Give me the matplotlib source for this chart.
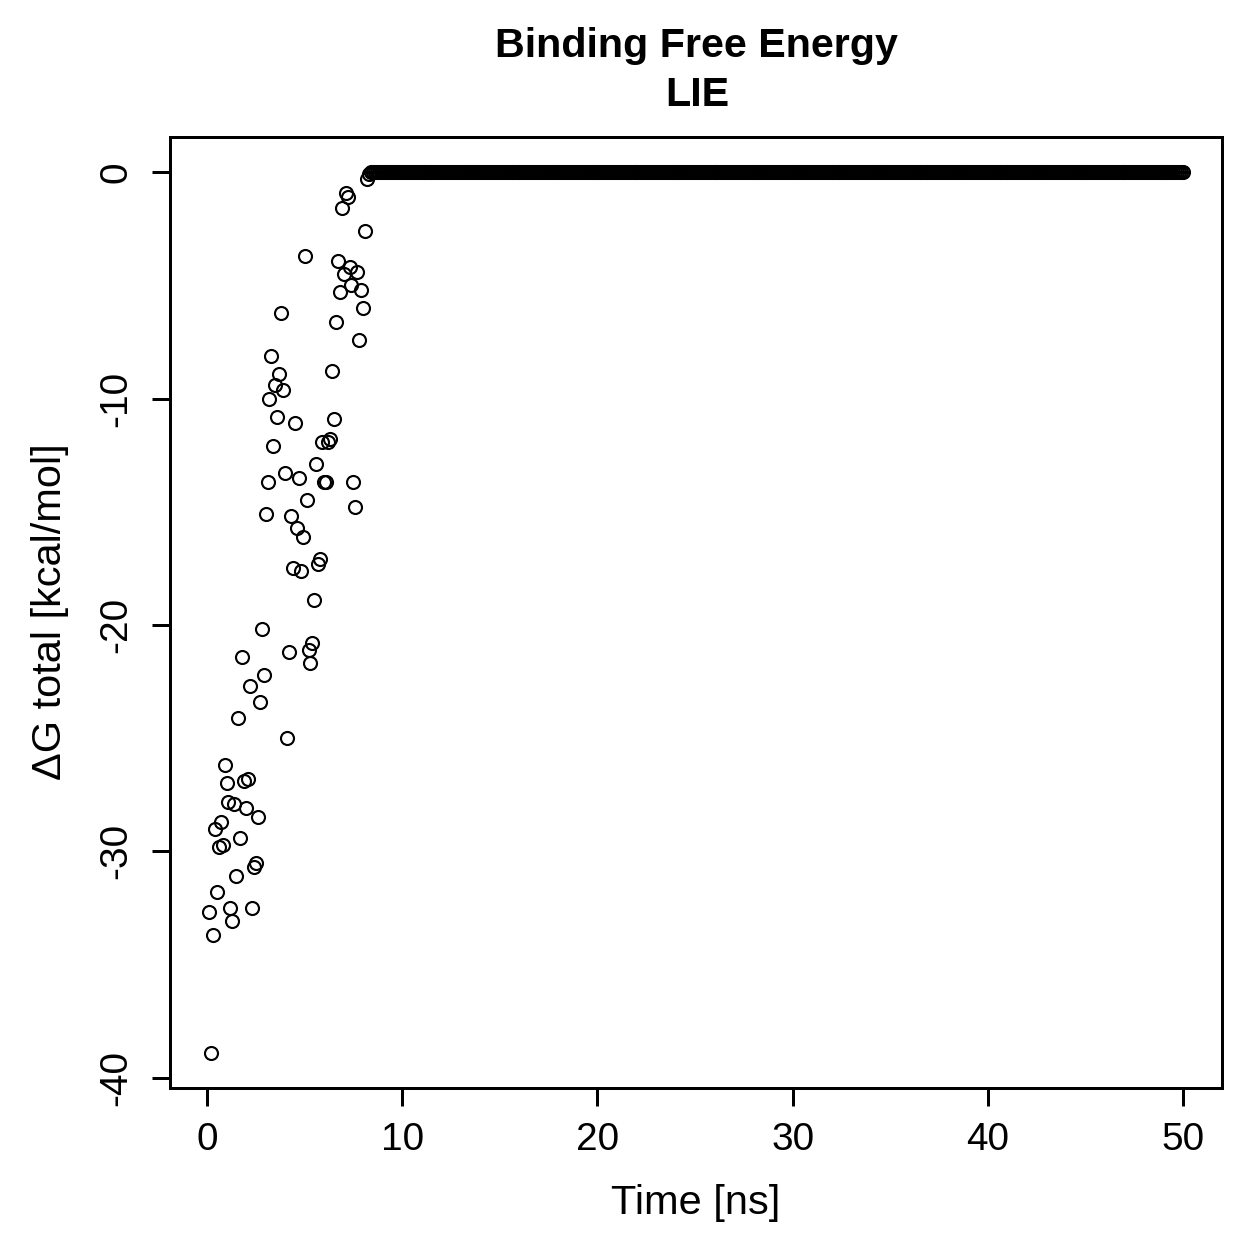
import numpy as np
import matplotlib
matplotlib.use("Agg")
import matplotlib.pyplot as plt

plt.rcParams['font.family'] = ['Liberation Sans', 'DejaVu Sans']

# Binding free energy (kcal/mol), sampled every 0.1 ns
dg_early = [
    -32.7, -38.9, -33.7, -29.0, -31.8, -29.8, -28.7, -29.7, -26.2, -27.0,
    -27.8, -32.5, -33.1, -27.9, -31.1, -24.1, -29.4, -21.4, -26.9, -28.1,
    -26.8, -22.7, -32.5, -30.7, -30.5, -28.5, -23.4, -20.2, -22.2, -15.1,
    -13.7, -10.0, -8.1, -12.1, -9.4, -10.8, -8.9, -6.2, -9.6, -13.3,
    -25.0, -21.2, -15.2, -17.5, -11.1, -15.7, -13.5, -17.6, -16.1, -3.7,
    -14.5, -21.1, -21.7, -20.8, -18.9, -12.9, -17.3, -17.1, -11.9, -13.7,
    -13.7, -11.9, -11.8, -8.8, -10.9, -6.6, -3.9, -5.3, -1.6, -4.5,
    -0.9, -1.1, -4.2, -5.0, -13.7, -14.8, -4.4, -7.4, -5.2, -6.0,
    -2.6, -0.3, -0.1,
]
dg_late = [0.0] * 417
dg_total = dg_early + dg_late
time_ns = np.round(np.arange(1, len(dg_total) + 1) * 0.1, 1)

xticks = [0, 10, 20, 30, 40, 50]
yticks = [0, -10, -20, -30, -40]

W = 1259
fig = plt.figure(figsize=(W / 180, W / 180), dpi=180)
ax = fig.add_axes([170 / W, 1 - 1088 / W, (1222 - 170) / W, (1088 - 137) / W])

ax.plot(time_ns, dg_total, linestyle='none', marker='o', markersize=5.2,
        markerfacecolor='none', markeredgecolor='black', markeredgewidth=0.85)

ax.set_xlim(-1.896, 51.996)
ax.set_ylim(-40.456, 1.556)
ax.set_xticks(xticks)
ax.set_yticks(yticks)
ax.set_xticklabels([str(v) for v in xticks], fontsize=15.5)
ax.set_yticklabels([str(v) for v in yticks], fontsize=15.5, rotation=90, va='center')
ax.tick_params(axis='both', direction='out', length=7.2, width=1.2, colors='black')
ax.tick_params(axis='x', pad=6.2)
ax.tick_params(axis='y', pad=7)
for s in ax.spines.values():
    s.set_linewidth(1.2)
    s.set_color('black')

fig.text(696 / W, 1 - 1203 / W, 'Time [ns]', ha='center', va='center', fontsize=16.6)
fig.text(50 / W, 1 - 612 / W, '\u0394G total [kcal/mol]', ha='center', va='center',
         fontsize=16.6, rotation=90)
fig.text(697 / W, 1 - 46 / W, 'Binding Free Energy', ha='center', va='center',
         fontsize=16.5, fontweight='bold')
fig.text(697 / W, 1 - 95 / W, 'LIE', ha='center', va='center',
         fontsize=16.5, fontweight='bold')

fig.savefig('out.png', dpi=180, facecolor='white')
